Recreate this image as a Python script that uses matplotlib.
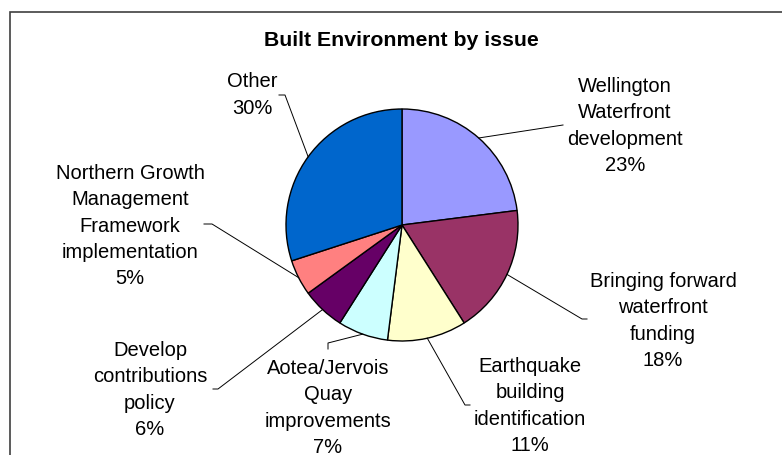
import matplotlib.pyplot as plt
import numpy as np
from matplotlib.patches import Rectangle

# Data (clockwise from 12 o'clock)
issues = ['Wellington\nWaterfront\ndevelopment',
          'Bringing forward\nwaterfront\nfunding',
          'Earthquake\nbuilding\nidentification',
          'Aotea/Jervois\nQuay\nimprovements',
          'Develop\ncontributions\npolicy',
          'Northern Growth\nManagement\nFramework\nimplementation',
          'Other']
shares = [23, 18, 11, 7, 6, 5, 30]
colors = ['#9999FF', '#993366', '#FFFFCC', '#CCFFFF', '#660066', '#FF8080', '#0066CC']

W, H = 782, 456
# label centres and leader start / elbow points, in pixels from top-left
label_pos = [(625, 126), (663, 321), (530, 406), (328, 408), (150, 390), (130, 226), (252, 95)]
leader_pts = [[(563, 126)],
              [(587, 320), (582, 320)],
              [(470, 406), (465, 406)],
              [(328, 350), (328, 344)],
              [(213, 390), (218, 390)],
              [(204, 225), (212, 225)],
              [(279, 96), (285, 96)]]

plt.rcParams['font.family'] = ['Liberation Sans', 'DejaVu Sans']

fig = plt.figure(figsize=(W / 100, H / 100), dpi=100)
ax = fig.add_axes([0, 0, 1, 1])

cx, cy, r = 402, H - 226, 116
wedges, _ = ax.pie(shares, colors=colors, startangle=90, counterclock=False,
                   radius=r, center=(cx, cy),
                   wedgeprops=dict(edgecolor='black', linewidth=1.0))

ax.set_xlim(0, W)
ax.set_ylim(0, H)
ax.set_aspect('equal')
ax.axis('off')

# chart area border (only top and left visible)
ax.add_patch(Rectangle((9.5, -20), W + 40, H - 12 + 20 - 0.5, fill=False,
                       edgecolor='#404040', linewidth=1.2, clip_on=False))

ax.text(401.5, H - 45.7, 'Built Environment by issue', ha='center', va='baseline',
        fontsize=15.3, fontweight='bold')

for w, name, val, (lx, ly), pts in zip(wedges, issues, shares, label_pos, leader_pts):
    mid = np.deg2rad((w.theta1 + w.theta2) / 2)
    ex, ey = cx + r * np.cos(mid), cy + r * np.sin(mid)
    xs = [p[0] for p in pts] + [ex]
    ys = [H - p[1] for p in pts] + [ey]
    ax.plot(xs, ys, color='black', linewidth=0.7)
    ax.text(lx, H - ly, f'{name}\n{val}%', ha='center', va='center',
            fontsize=14.5, linespacing=1.47)

fig.savefig('out.png', dpi=100)
